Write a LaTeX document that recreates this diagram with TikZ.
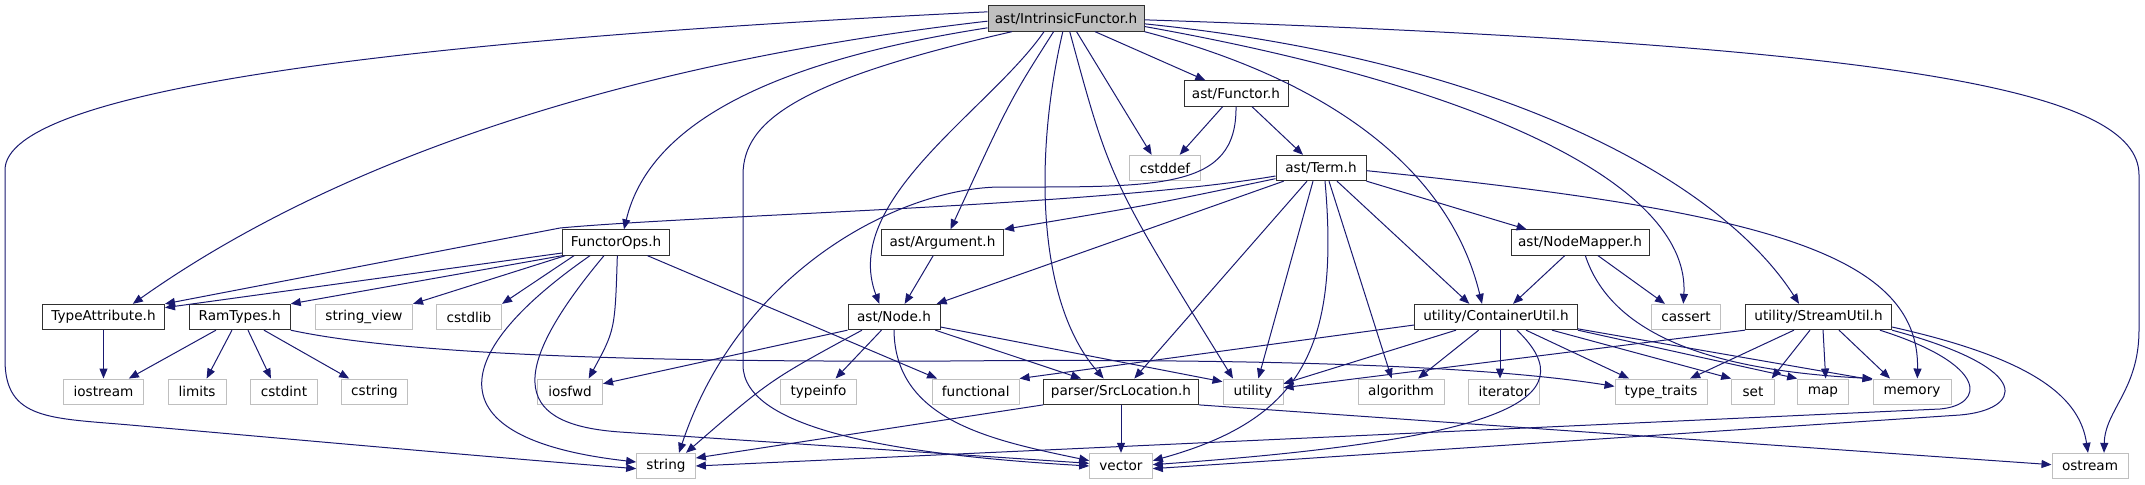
\documentclass[tikz,border=0pt]{standalone}
\usepackage{fontspec}
\setmainfont{DejaVu Sans}
\usetikzlibrary{arrows.meta}
\definecolor{incBlue}{HTML}{191970}
\definecolor{sysGrey}{HTML}{BFBFBF}
\definecolor{hdrGrey}{HTML}{303030}
\begin{document}
\begin{tikzpicture}[x=0.75pt, y=-0.75pt,
  hdr/.style={draw=hdrGrey, line width=0.75pt, minimum height=19pt, inner sep=0pt, font=\fontsize{10.2}{12}\selectfont},
  sys/.style={hdr, draw=sysGrey},
  root/.style={hdr, fill=sysGrey, draw=hdrGrey},
  inc/.style={draw=incBlue, line width=0.75pt, -{Triangle[length=7.5pt,width=6pt]}}]
\useasboundingbox (0,0) rectangle (2145,485);
% Headers, row by row
\node[root, minimum width=117pt] (intrinsic) at (1066,18.5) {ast/IntrinsicFunctor.h};
\node[hdr, minimum width=78pt] (functor) at (1236,93.5) {ast/Functor.h};
\node[sys, minimum width=53pt] (cstddef) at (1165,168) {cstddef};
\node[hdr, minimum width=67.5pt] (term) at (1321,168) {ast/Term.h};
\node[hdr, minimum width=80pt] (functorops) at (616,242.5) {FunctorOps.h};
\node[hdr, minimum width=91.5pt] (argument) at (942.5,242.5) {ast/Argument.h};
\node[hdr, minimum width=103.5pt] (nodemapper) at (1580,242.5) {ast/NodeMapper.h};
\node[hdr, minimum width=91.5pt] (typeattr) at (103.5,317) {TypeAttribute.h};
\node[hdr, minimum width=75.8pt] (ramtypes) at (239.7,317) {RamTypes.h};
\node[sys, minimum width=72.8pt] (stringview) at (364,317) {string\_view};
\node[sys, minimum width=48.8pt] (cstdlib) at (469,317) {cstdlib};
\node[hdr, minimum width=69pt] (astnode) at (894,317) {ast/Node.h};
\node[hdr, minimum width=122pt] (containerutil) at (1496,317) {utility/ContainerUtil.h};
\node[sys, minimum width=51.8pt] (cassert) at (1686,317) {cassert};
\node[hdr, minimum width=109.5pt] (streamutil) at (1818.5,317) {utility/StreamUtil.h};
\node[sys, minimum width=60pt] (iostream) at (103.5,391.7) {iostream};
\node[sys, minimum width=43.5pt] (limits) at (197,391.7) {limits};
\node[sys, minimum width=50pt] (cstdint) at (284,391.7) {cstdint};
\node[sys, minimum width=50pt] (cstring) at (374.5,391.7) {cstring};
\node[sys, minimum width=48.8pt] (iosfwd) at (570,391.7) {iosfwd};
\node[sys, minimum width=57pt] (typeinfo) at (818.5,391.7) {typeinfo};
\node[sys, minimum width=65pt] (functional) at (975.7,391.7) {functional};
\node[hdr, minimum width=116pt] (srcloc) at (1121,391.7) {parser/SrcLocation.h};
\node[sys, minimum width=45pt] (utility) at (1253,391.7) {utility};
\node[sys, minimum width=64.5pt] (algorithm) at (1401,391.7) {algorithm};
\node[sys, minimum width=53pt] (iterator) at (1504,391.7) {iterator};
\node[sys, minimum width=69pt] (typetraits) at (1661,391.7) {type\_traits};
\node[sys, minimum width=32pt] (set) at (1753,391.7) {set};
\node[sys, minimum width=38pt] (map) at (1823,391.7) {map};
\node[sys, minimum width=58.5pt] (memory) at (1912,391.7) {memory};
\node[sys, minimum width=44pt] (string) at (666,466) {string};
\node[sys, minimum width=47pt] (vector) at (1121,466) {vector};
\node[sys, minimum width=57pt] (ostream) at (2090,466) {ostream};
% Includes of ast/IntrinsicFunctor.h
\draw[inc] ([yshift=5pt]intrinsic.west) .. controls (400,40) and (5,90) .. (5,170) -- (5,360) .. controls (5,420) and (50,418) .. (130,425) .. controls (300,440) and (500,458) .. ([yshift=-2pt]string.west);
\draw[inc] ([yshift=-2pt]intrinsic.west) .. controls (650,60) and (350,150) .. ([xshift=22pt]typeattr.north);
\draw[inc] ([yshift=-7pt]intrinsic.west) .. controls (780,60) and (650,120) .. ([xshift=6pt]functorops.north);
\draw[inc] ([xshift=-40.5pt]intrinsic.south) .. controls (800,80) and (743,120) .. (743,175) -- (743,365) .. controls (743,430) and (900,455) .. (vector.west);
\draw[inc] ([xshift=-16.5pt]intrinsic.south) .. controls (990,110) and (840,200) .. ([xshift=-11pt]astnode.north);
\draw[inc] ([xshift=-9.3pt]intrinsic.south) .. controls (1010,100) .. ([xshift=6pt]argument.north);
\draw[inc] ([xshift=-2.4pt]intrinsic.south) .. controls (1035,150) and (1035,300) .. ([xshift=-13pt]srcloc.north);
\draw[inc] ([xshift=2.8pt]intrinsic.south) .. controls (1110,180) .. ([xshift=-15pt]utility.north);
\draw[inc] ([xshift=7.9pt]intrinsic.south) -- ([xshift=-10pt]cstddef.north);
\draw[inc] ([xshift=21.8pt]intrinsic.south) -- ([xshift=-23pt]functor.north);
\draw[inc] (intrinsic.south east) .. controls (1330,80) and (1450,170) .. ([xshift=-10.5pt]containerutil.north);
\draw[inc] ([yshift=-6pt]intrinsic.east) .. controls (1500,90) and (1690,190) .. ([xshift=-2pt]cassert.north);
\draw[inc] ([yshift=-4pt]intrinsic.east) .. controls (1500,60) and (1720,180) .. ([xshift=-14.6pt]streamutil.north);
\draw[inc] ([yshift=-1pt]intrinsic.east) .. controls (1900,45) and (2139,90) .. (2139,175) -- (2139,330) .. controls (2139,390) and (2105,410) .. ([xshift=10.5pt]ostream.north);
% Includes of ast/Functor.h
\draw[inc] ([xshift=-10pt]functor.south) -- ([xshift=11pt]cstddef.north);
\draw[inc] ([xshift=12pt]functor.south) -- ([xshift=-13.5pt]term.north);
\draw[inc] (functor.south) .. controls (1237,190) and (1160,187) .. (1000,187) .. controls (900,188) and (740,270) .. ([xshift=9.75pt]string.north);
% Includes of ast/Term.h
\draw[inc] ([yshift=-6pt]term.west) .. controls (1100,206) and (700,215) .. (560,228) -- (typeattr.north east);
\draw[inc] ([yshift=-8pt]term.west) .. controls (1150,205) .. (argument.north east);
\draw[inc] ([xshift=-28pt]term.south) -- ([xshift=32pt]astnode.north);
\draw[inc] ([xshift=-10.5pt]term.south) -- ([xshift=10pt]srcloc.north);
\draw[inc] ([xshift=-6pt]term.south) -- ([xshift=4pt]utility.north);
\draw[inc] ([xshift=3pt]term.south) .. controls (1340,350) and (1300,420) .. ([yshift=4pt]vector.east);
\draw[inc] ([xshift=6pt]term.south) -- ([xshift=-7pt]algorithm.north);
\draw[inc] ([xshift=12pt]term.south) -- ([xshift=-20pt]containerutil.north);
\draw[inc] (term.south east) -- ([xshift=-40pt]nodemapper.north);
\draw[inc] ([yshift=-2pt]term.east) .. controls (1750,210) and (1920,250) .. ([xshift=4pt]memory.north);
% Includes of ast/Argument.h
\draw[inc] ([xshift=-7pt]argument.south) -- ([xshift=8pt]astnode.north);
% Includes of FunctorOps.h
\draw[inc] ([yshift=2pt]functorops.south west) -- ([yshift=7pt]typeattr.east);
\draw[inc] (functorops.south west) -- (ramtypes.north east);
\draw[inc] ([xshift=-38pt]functorops.south) -- (stringview.north east);
\draw[inc] ([xshift=-31.5pt]functorops.south) -- (cstdlib.north east);
\draw[inc] ([xshift=-19.5pt]functorops.south) .. controls (440,360) and (440,440) .. ([yshift=3pt]string.west);
\draw[inc] ([xshift=-9pt]functorops.south) .. controls (500,380) and (520,425) .. (620,432) -- ([yshift=2pt]vector.west);
\draw[inc] ([xshift=1pt]functorops.south) .. controls (615,330) .. ([xshift=14pt]iosfwd.north);
\draw[inc] ([xshift=23.6pt]functorops.south) -- ([xshift=-29pt]functional.north);
% Includes of TypeAttribute.h and RamTypes.h
\draw[inc] (typeattr.south) -- (iostream.north);
\draw[inc] ([xshift=-17.8pt]ramtypes.south) -- ([xshift=19pt]iostream.north);
\draw[inc] ([xshift=-5.8pt]ramtypes.south) -- ([xshift=7.2pt]limits.north);
\draw[inc] ([xshift=6.2pt]ramtypes.south) -- ([xshift=-9.8pt]cstdint.north);
\draw[inc] ([xshift=18.2pt]ramtypes.south) -- ([xshift=-19pt]cstring.north);
\draw[inc] (ramtypes.south east) .. controls (420,358) and (700,362) .. (950,361) .. controls (1300,358) and (1500,368) .. ([yshift=4pt]typetraits.west);
% Includes of ast/Node.h
\draw[inc] (astnode.south west) -- ([yshift=6pt]iosfwd.east);
\draw[inc] ([xshift=-24pt]astnode.south) .. controls (770,380) .. ([xshift=15pt]string.north);
\draw[inc] ([xshift=-9.4pt]astnode.south) -- ([xshift=12.8pt]typeinfo.north);
\draw[inc] (astnode.south) .. controls (895,420) and (990,440) .. ([yshift=4pt]vector.west);
\draw[inc] ([xshift=31pt]astnode.south) -- ([xshift=-30pt]srcloc.north);
\draw[inc] ([yshift=-7.5pt]astnode.east) -- ([yshift=7.5pt]utility.west);
% Includes of parser/SrcLocation.h
\draw[inc] (srcloc.south) -- (vector.north);
\draw[inc] (srcloc.south west) -- ([yshift=6pt]string.east);
\draw[inc] (srcloc.south east) -- ([yshift=1pt]ostream.west);
% Includes of ast/NodeMapper.h
\draw[inc] ([xshift=-11.5pt]nodemapper.south) -- ([xshift=12.8pt]containerutil.north);
\draw[inc] ([xshift=13.5pt]nodemapper.south) -- ([xshift=-15.8pt]cassert.north);
\draw[inc] ([xshift=4pt]nodemapper.south) .. controls (1610,330) and (1700,370) .. (memory.north west);
% Includes of utility/ContainerUtil.h
\draw[inc] ([yshift=-6pt]containerutil.west) -- (functional.north east);
\draw[inc] ([xshift=-30pt]containerutil.south) -- ([yshift=6pt]utility.east);
\draw[inc] ([xshift=-13pt]containerutil.south) -- ([xshift=12.8pt]algorithm.north);
\draw[inc] ([xshift=3pt]containerutil.south) -- ([xshift=-3pt]iterator.north);
\draw[inc] ([xshift=15.7pt]containerutil.south) .. controls (1590,400) and (1500,440) .. ([yshift=1pt]vector.east);
\draw[inc] ([xshift=22.5pt]containerutil.south) -- ([xshift=-24pt]typetraits.north);
\draw[inc] ([xshift=42pt]containerutil.south) -- (set.north west);
\draw[inc] (containerutil.south east) -- (map.north west);
\draw[inc] ([yshift=1pt]containerutil.south east) -- ([yshift=-1pt]memory.north west);
% Includes of utility/StreamUtil.h
\draw[inc] (streamutil.south west) -- ([yshift=3pt]utility.east);
\draw[inc] ([xshift=-18.4pt]streamutil.south) -- ([xshift=21.8pt]typetraits.north);
\draw[inc] ([xshift=-6.4pt]streamutil.south) -- ([xshift=14pt]set.north);
\draw[inc] ([xshift=3.4pt]streamutil.south) -- ([xshift=2pt]map.north);
\draw[inc] ([xshift=15.4pt]streamutil.south) -- ([xshift=-16.5pt]memory.north);
\draw[inc] ([xshift=46pt]streamutil.south) .. controls (1990,365) and (1985,405) .. (1940,409) -- (string.east);
\draw[inc] (streamutil.south east) .. controls (2040,370) and (2020,410) .. (1960,415) -- ([yshift=-2pt]vector.east);
\draw[inc] ([yshift=-7.5pt]streamutil.east) .. controls (2040,360) and (2080,400) .. ([xshift=-1.5pt]ostream.north);
\end{tikzpicture}
\end{document}
